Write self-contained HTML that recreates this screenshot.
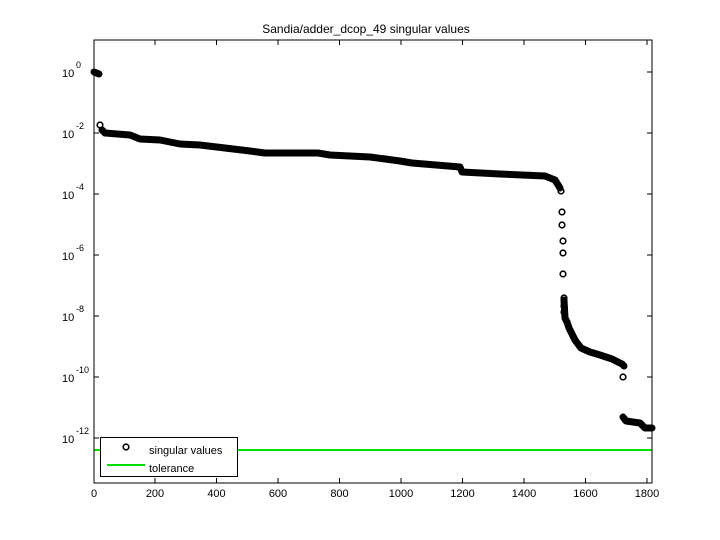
<!DOCTYPE html>
<html><head><meta charset="utf-8"><style>
body{margin:0;background:#fff}
svg{display:block;font-family:"Liberation Sans",sans-serif}
</style></head><body>
<svg width="720" height="540" viewBox="0 0 720 540" xmlns="http://www.w3.org/2000/svg">
<rect width="720" height="540" fill="#fff"/>
<text x="366" y="33" font-size="12" text-anchor="middle">Sandia/adder_dcop_49 singular values</text>
<line x1="94" y1="450" x2="652" y2="450" stroke="#00e000" stroke-width="2"/>
<g fill="none" stroke="#000" stroke-linejoin="round" stroke-linecap="round">
<polyline stroke-width="7" points="94,72 99,74"/>
<polyline stroke-width="7" points="102,130 105,133 130,135 140,139 160,140 180,144 200,145 225,148 250,151 265,153 318,153 330,155 370,157 400,161 412,163 460,167 462,172 500,174 545,176 555,180 560,188"/>
<polyline stroke-width="7" points="564,300 565,318 567,322 569,328 575,340 581,348 590,352 600,355 612,359 622,364 624,366"/>
<polyline stroke-width="7" points="623,417 626,421 640,423 645,428 652,428"/>
</g>
<g fill="none" stroke="#000" stroke-width="1.6">
<circle cx="100" cy="125" r="2.8"/><circle cx="561" cy="191" r="2.8"/>
<circle cx="562" cy="212" r="2.8"/><circle cx="562" cy="225" r="2.8"/><circle cx="563" cy="241" r="2.8"/><circle cx="563" cy="253" r="2.8"/><circle cx="563" cy="274" r="2.8"/><circle cx="564" cy="298" r="2.8"/><circle cx="564" cy="306" r="2.8"/><circle cx="564" cy="312" r="2.8"/><circle cx="623" cy="377" r="2.8"/>
</g>
<rect x="94" y="40" width="558" height="443" fill="none" stroke="#000" stroke-width="1"/>
<g stroke="#000" stroke-width="1">
<path d="M155,483v-5M216.5,483v-5M278,483v-5M339.5,483v-5M401,483v-5M462.5,483v-5M524,483v-5M585.5,483v-5M647,483v-5"/>
<path d="M155,40v5M216.5,40v5M278,40v5M339.5,40v5M401,40v5M462.5,40v5M524,40v5M585.5,40v5M647,40v5"/>
<path d="M94,72h5M94,133h5M94,194h5M94,255h5M94,316h5M94,377h5M94,438h5"/>
<path d="M652,72h-5M652,133h-5M652,194h-5M652,255h-5M652,316h-5M652,377h-5M652,438h-5"/>
</g>
<g font-size="11" text-anchor="middle">
<text x="94" y="497">0</text><text x="155" y="497">200</text><text x="216.5" y="497">400</text><text x="278" y="497">600</text><text x="339.5" y="497">800</text><text x="401" y="497">1000</text><text x="462.5" y="497">1200</text><text x="524" y="497">1400</text><text x="585.5" y="497">1600</text><text x="647" y="497">1800</text>
</g>
<g font-size="11">
<text x="62" y="77">10</text><text x="76" y="68" font-size="9">0</text>
<text x="62" y="138">10</text><text x="76" y="129" font-size="9">-2</text>
<text x="62" y="199">10</text><text x="76" y="190" font-size="9">-4</text>
<text x="62" y="260">10</text><text x="76" y="251" font-size="9">-6</text>
<text x="62" y="321">10</text><text x="76" y="312" font-size="9">-8</text>
<text x="62" y="382">10</text><text x="76" y="373" font-size="9">-10</text>
<text x="62" y="443">10</text><text x="76" y="434" font-size="9">-12</text>
</g>
<rect x="100.5" y="437.5" width="137" height="39" fill="#fff" stroke="#000"/>
<circle cx="126" cy="447" r="2.8" fill="none" stroke="#000" stroke-width="1.6"/>
<line x1="107" y1="465" x2="145" y2="465" stroke="#00e000" stroke-width="2"/>
<text x="149" y="454" font-size="11">singular values</text>
<text x="149" y="472" font-size="11">tolerance</text>
</svg>
</body></html>
